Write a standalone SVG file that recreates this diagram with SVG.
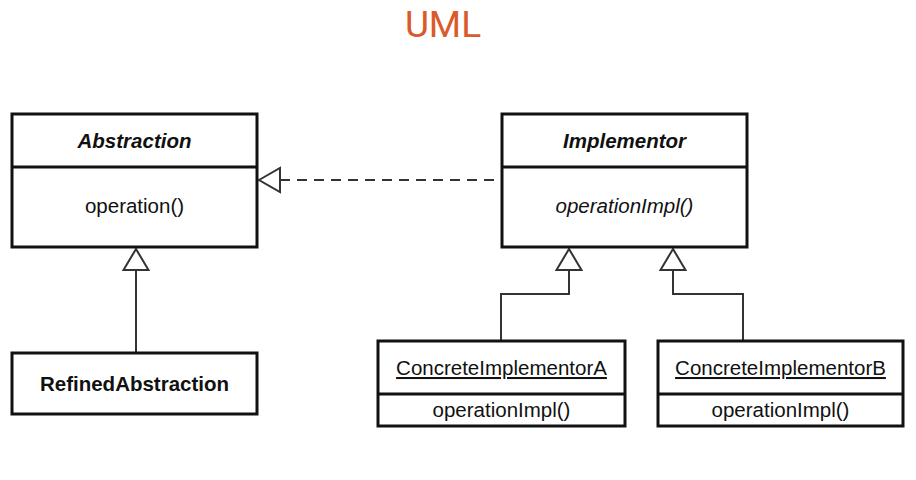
<svg xmlns="http://www.w3.org/2000/svg" width="916" height="480" viewBox="0 0 916 480">
  <style>
    .box { fill: #ffffff; stroke: #111111; stroke-width: 3; }
    .div { stroke: #111111; stroke-width: 3; }
    .txt { font-family: "Liberation Sans", Arial, sans-serif; font-size: 20.5px; fill: #111111; text-anchor: middle; }
    .name { font-weight: bold; }
    .abs { font-style: italic; }
    .obj { text-decoration: underline; }
    .edge { fill: none; stroke: #333333; stroke-width: 2; }
    .dash { stroke-dasharray: 10 7; }
    .head { fill: #ffffff; stroke: #333333; stroke-width: 2; stroke-linejoin: miter; }
    .title { font-family: Roboto, "Liberation Sans", sans-serif; font-size: 37px; fill: #DA5A2A; text-anchor: middle; }
  </style>

  <rect width="916" height="480" fill="#ffffff"/>

  <text class="title" x="443" y="37">UML</text>

  <!-- connectors -->
  <g id="connectors">
    <!-- Implementor realizes Abstraction interface (dashed) -->
    <line class="edge dash" x1="280" y1="180" x2="501" y2="180"/>
    <polygon class="head" points="259,180 280,168 280,192"/>
    <!-- RefinedAbstraction -> Abstraction -->
    <line class="edge" x1="136" y1="270" x2="136" y2="352"/>
    <polygon class="head" points="136,249 123.5,270 148.5,270"/>
    <!-- ConcreteImplementorA -> Implementor -->
    <polyline class="edge" points="501,341 501,294 569,294 569,270"/>
    <polygon class="head" points="569,249 556.5,270 581.5,270"/>
    <!-- ConcreteImplementorB -> Implementor -->
    <polyline class="edge" points="743,341 743,294 673,294 673,270"/>
    <polygon class="head" points="673,249 660.5,270 685.5,270"/>
  </g>

  <g id="abstraction">
    <rect class="box" x="12" y="114" width="245" height="133"/>
    <line class="div" x1="12" y1="167" x2="257" y2="167"/>
    <text class="txt name abs" x="134.5" y="148">Abstraction</text>
    <text class="txt" x="134.5" y="213">operation()</text>
  </g>

  <g id="implementor">
    <rect class="box" x="502" y="114" width="245" height="133"/>
    <line class="div" x1="502" y1="167" x2="747" y2="167"/>
    <text class="txt name abs" x="624.5" y="148">Implementor</text>
    <text class="txt abs" x="624.5" y="213">operationImpl()</text>
  </g>

  <g id="refined-abstraction">
    <rect class="box" x="12" y="353" width="245" height="61"/>
    <text class="txt name" x="134.5" y="391">RefinedAbstraction</text>
  </g>

  <g id="concrete-implementor-a">
    <rect class="box" x="378" y="341" width="247" height="85"/>
    <line class="div" x1="378" y1="394" x2="625" y2="394"/>
    <text class="txt obj" x="501.5" y="375">ConcreteImplementorA</text>
    <text class="txt" x="501.5" y="417">operationImpl()</text>
  </g>

  <g id="concrete-implementor-b">
    <rect class="box" x="658" y="341" width="245" height="85"/>
    <line class="div" x1="658" y1="394" x2="903" y2="394"/>
    <text class="txt obj" x="780.5" y="375">ConcreteImplementorB</text>
    <text class="txt" x="780.5" y="417">operationImpl()</text>
  </g>
</svg>
